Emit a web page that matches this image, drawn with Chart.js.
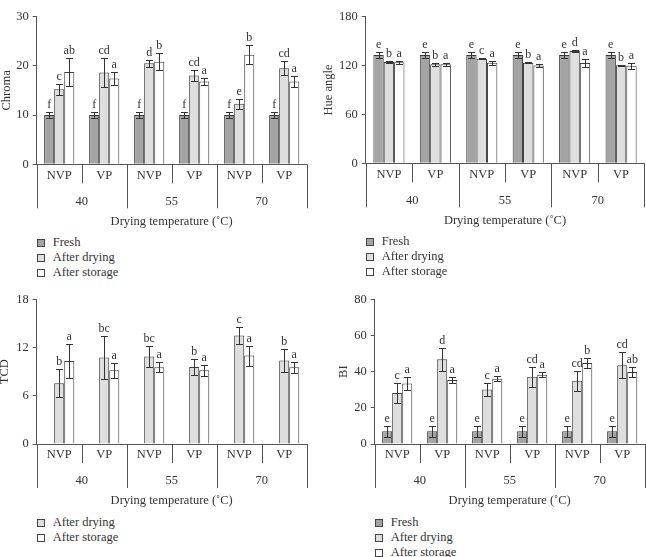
<!DOCTYPE html>
<html><head><meta charset="utf-8">
<script src="https://cdn.jsdelivr.net/npm/chart.js@4"></script>
<style>
html,body{margin:0;padding:0;background:#fff;}
body{width:646px;height:557px;overflow:hidden;position:relative;}
canvas.pc{position:absolute;}
.legItem{position:absolute;font:12.5px "Liberation Serif",serif;color:#333;white-space:nowrap;line-height:15px;height:15px;}
.legBox{position:absolute;width:6px;height:6px;border:1px solid #444;}
</style></head><body>
<canvas id="c1" class="pc" width="323" height="235" style="left:0;top:0"></canvas>
<canvas id="c2" class="pc" width="323" height="235" style="left:323px;top:0"></canvas>
<canvas id="c3" class="pc" width="323" height="235" style="left:0;top:280px"></canvas>
<canvas id="c4" class="pc" width="323" height="235" style="left:323px;top:280px"></canvas>
<script>
// ---------- data ----------
const subCategories = ['NVP','VP','NVP','VP','NVP','VP'];
const tempGroups = ['40','55','70'];
const xAxisTitle = 'Drying temperature (\u02DAC)';
const seriesNames = ['Fresh','After drying','After storage'];

// Chroma
const chromaFresh      = [10, 10, 10, 10, 10, 10];
const chromaFreshErr   = [0.6, 0.6, 0.6, 0.6, 0.6, 0.6];
const chromaFreshSig   = ['f','f','f','f','f','f'];
const chromaDrying     = [15.2, 18.6, 20.5, 18.0, 12.3, 19.5];
const chromaDryingErr  = [1.1, 2.9, 0.75, 1.2, 1.0, 1.4];
const chromaDryingSig  = ['c','cd','d','cd','e','cd'];
const chromaStorage    = [18.7, 17.4, 20.8, 16.8, 22.2, 16.8];
const chromaStorageErr = [2.9, 1.3, 1.7, 0.65, 1.9, 1.05];
const chromaStorageSig = ['ab','a','b','a','b','a'];

// Hue angle
const hueFresh      = [133, 133, 133, 133, 133, 133];
const hueFreshErr   = [3.6, 3.6, 3.6, 3.6, 3.6, 3.6];
const hueFreshSig   = ['e','e','e','e','e','e'];
const hueDrying     = [124.4, 121.5, 128.5, 123.6, 138, 120.3];
const hueDryingErr  = [1.2, 1.5, 0.5, 1.0, 1.3, 0.5];
const hueDryingSig  = ['b','b','c','b','d','b'];
const hueStorage    = [124, 121.6, 123.6, 120, 123.2, 119.8];
const hueStorageErr = [2.0, 2.0, 2.5, 1.5, 5.0, 3.5];
const hueStorageSig = ['a','a','a','a','a','a'];

// TCD
const tcdFresh      = [0, 0, 0, 0, 0, 0];
const tcdDrying     = [7.55, 10.75, 10.87, 9.58, 13.5, 10.4];
const tcdDryingErr  = [1.75, 2.65, 1.35, 1.0, 1.0, 1.4];
const tcdDryingSig  = ['b','bc','bc','b','c','b'];
const tcdStorage    = [10.33, 9.17, 9.54, 9.17, 11.0, 9.54];
const tcdStorageErr = [2.1, 0.95, 0.6, 0.7, 1.25, 0.7];
const tcdStorageSig = ['a','a','a','a','a','a'];

// BI
const biFresh      = [7, 7, 7, 7, 7, 7];
const biFreshErr   = [2.9, 2.9, 2.9, 2.9, 2.9, 2.9];
const biFreshSig   = ['e','e','e','e','e','e'];
const biDrying     = [28.2, 46.8, 30.2, 37.2, 35.0, 43.5];
const biDryingErr  = [5.5, 6.5, 3.6, 5.5, 5.6, 7.2];
const biDryingSig  = ['c','d','c','cd','cd','cd'];
const biStorage    = [33.4, 35.4, 36.1, 38.3, 44.8, 39.8];
const biStorageErr = [3.5, 1.5, 1.5, 1.5, 2.6, 2.6];
const biStorageSig = ['a','a','a','a','b','ab'];

// ---------- styling ----------
const FONT = '"Liberation Serif", serif';
const TXT = '#333';
const AX = '#555';
const fillColors = ['#a4a4a4', '#dedede', '#ffffff'];
const edge = '#3a3a3a';

const decoPlugin = {
  id: 'deco',
  afterDatasetsDraw(chart) {
    const ctx = chart.ctx, y = chart.scales.y;
    ctx.save();
    ctx.strokeStyle = '#333'; ctx.lineWidth = 1;
    ctx.fillStyle = TXT; ctx.font = '12px ' + FONT;
    ctx.textAlign = 'center'; ctx.textBaseline = 'alphabetic';
    chart.data.datasets.forEach((ds, d) => {
      if (!ds.err) return;
      const meta = chart.getDatasetMeta(d);
      meta.data.forEach((bar, i) => {
        const v = ds.data[i], e = ds.err[i];
        const x = Math.round(bar.x) + 0.5;
        const yt = Math.round(y.getPixelForValue(v + e)) + 0.5;
        const yb = Math.round(y.getPixelForValue(v - e)) + 0.5;
        ctx.beginPath();
        ctx.moveTo(x, yt); ctx.lineTo(x, yb);
        ctx.moveTo(x - 3.5, yt); ctx.lineTo(x + 3.5, yt);
        ctx.moveTo(x - 3.5, yb); ctx.lineTo(x + 3.5, yb);
        ctx.stroke();
        if (ds.sig) ctx.fillText(ds.sig[i], bar.x, yt - 5);
      });
    });
    ctx.restore();
  },
  afterDraw(chart) {
    const cfg = chart.options.plugins.deco;
    const ctx = chart.ctx, a = chart.chartArea, xs = chart.scales.x;
    const n = subCategories.length, w = (a.right - a.left) / n;
    ctx.save();
    ctx.strokeStyle = AX; ctx.lineWidth = 1;
    ctx.beginPath();
    for (let i = 0; i <= n; i++) {
      const x = Math.round(a.left + i * w) + 0.5;
      const len = (i % 2 === 0) ? 44 : 19;
      ctx.moveTo(x, a.bottom); ctx.lineTo(x, a.bottom + len);
    }
    ctx.stroke();
    ctx.fillStyle = TXT; ctx.textAlign = 'center'; ctx.textBaseline = 'middle';
    ctx.font = '12.5px ' + FONT;
    subCategories.forEach((s, i) => ctx.fillText(s, xs.getPixelForValue(i), a.bottom + 11));
    tempGroups.forEach((g, j) => ctx.fillText(g, a.left + (2 * j + 1) * w, a.bottom + 37));
    ctx.font = '12.5px ' + FONT;
    ctx.fillText(xAxisTitle, (a.left + a.right) / 2, a.bottom + 57);
    // y title
    ctx.translate(cfg.yTitleX, (a.top + a.bottom) / 2);
    ctx.rotate(-Math.PI / 2);
    ctx.fillText(cfg.yTitle, 0, 0);
    ctx.restore();
  }
};

function makeDs(vals, errs, sigs, k, label) {
  return { label, data: vals, err: errs, sig: sigs, backgroundColor: fillColors[k],
    borderColor: edge, borderWidth: 1, borderSkipped: 'bottom',
    categoryPercentage: 0.67, barPercentage: 1.0 };
}

function makePanel(id, ox, oy, area, yMax, yStep, yTitle, yTitleX, datasets, legendNames, legendColors) {
  const cw = 323, ch = 235;
  new Chart(document.getElementById(id), {
    type: 'bar',
    data: { labels: subCategories, datasets },
    plugins: [decoPlugin],
    options: {
      responsive: false, animation: false, devicePixelRatio: 1,
      layout: { padding: { left: 0, top: area.top - oy, right: ox + cw - area.right, bottom: oy + ch - area.bottom } },
      plugins: { legend: { display: false }, tooltip: { enabled: false }, deco: { yTitle, yTitleX } },
      scales: {
        x: { grid: { display: false, drawTicks: false }, border: { display: true, color: AX, width: 1 },
             ticks: { display: false }, afterFit: s => { s.height = 0; } },
        y: { min: 0, max: yMax, ticks: { stepSize: yStep, font: { family: FONT, size: 12.5 }, color: TXT, padding: 4 },
             grid: { drawOnChartArea: false, drawTicks: true, tickLength: 4, color: AX },
             border: { color: AX, width: 1 }, afterFit: s => { s.width = area.left - ox; } }
      }
    }
  });
  // HTML legend
  legendNames.forEach((name, k) => {
    const cy = area.bottom + 79 + 15 * k;
    const box = document.createElement('div');
    box.className = 'legBox';
    box.style.left = (area.left) + 'px';
    box.style.top = (cy - 4) + 'px';
    box.style.background = legendColors[k];
    document.body.appendChild(box);
    const t = document.createElement('div');
    t.className = 'legItem';
    t.textContent = name;
    t.style.left = (area.left + 16) + 'px';
    t.style.top = (cy - 8) + 'px';
    document.body.appendChild(t);
  });
}

makePanel('c1', 0, 0, { left: 36.7, top: 16.4, right: 306.7, bottom: 164.3 }, 30, 10, 'Chroma', 7, [
  makeDs(chromaFresh, chromaFreshErr, chromaFreshSig, 0, seriesNames[0]),
  makeDs(chromaDrying, chromaDryingErr, chromaDryingSig, 1, seriesNames[1]),
  makeDs(chromaStorage, chromaStorageErr, chromaStorageSig, 2, seriesNames[2])
], seriesNames, fillColors);

makePanel('c2', 323, 0, { left: 365.7, top: 16.7, right: 644.3, bottom: 163.3 }, 180, 60, 'Hue angle', 6, [
  makeDs(hueFresh, hueFreshErr, hueFreshSig, 0, seriesNames[0]),
  makeDs(hueDrying, hueDryingErr, hueDryingSig, 1, seriesNames[1]),
  makeDs(hueStorage, hueStorageErr, hueStorageSig, 2, seriesNames[2])
], seriesNames, fillColors);

makePanel('c3', 0, 280, { left: 36.7, top: 299.3, right: 306.7, bottom: 444 }, 18, 6, 'TCD', 5, [
  makeDs(tcdFresh, null, null, 0, seriesNames[0]),
  makeDs(tcdDrying, tcdDryingErr, tcdDryingSig, 1, seriesNames[1]),
  makeDs(tcdStorage, tcdStorageErr, tcdStorageSig, 2, seriesNames[2])
], seriesNames.slice(1), fillColors.slice(1));

makePanel('c4', 323, 280, { left: 374.7, top: 299.3, right: 644.7, bottom: 444 }, 80, 20, 'BI', 21, [
  makeDs(biFresh, biFreshErr, biFreshSig, 0, seriesNames[0]),
  makeDs(biDrying, biDryingErr, biDryingSig, 1, seriesNames[1]),
  makeDs(biStorage, biStorageErr, biStorageSig, 2, seriesNames[2])
], seriesNames, fillColors);
</script>
</body></html>
